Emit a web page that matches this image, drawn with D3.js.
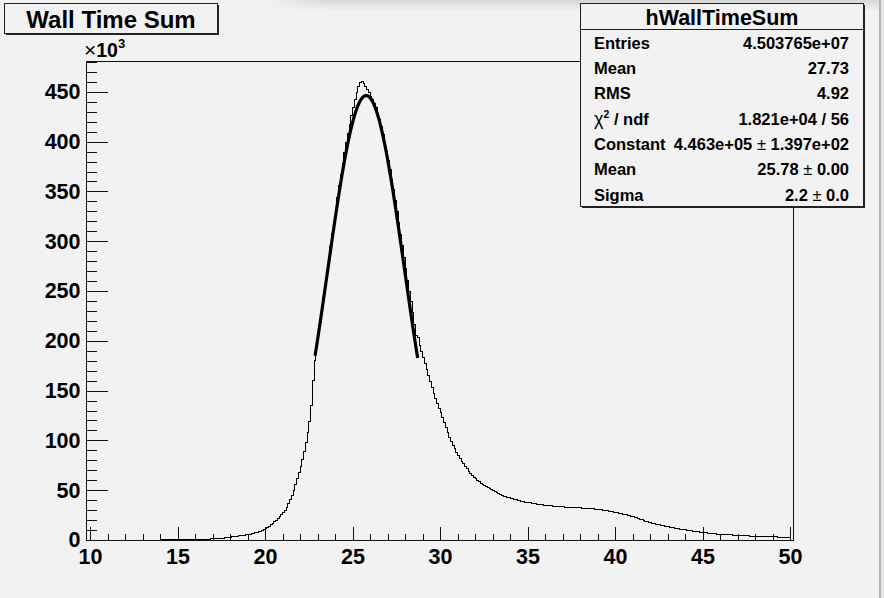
<!DOCTYPE html>
<html>
<head>
<meta charset="utf-8">
<script src="https://cdn.jsdelivr.net/npm/d3@7"></script>
<style>
  html, body { margin: 0; padding: 0; background: #f2f2f2; }
  svg { display: block; }
  text { font-family: "Liberation Sans", Arial, Helvetica, sans-serif; font-weight: bold; fill: #000; }
</style>
</head>
<body>
<svg id="chart" width="884" height="598"></svg>
<script>
// ---- histogram data: entries per 0.1-wide bin, in units of 10^3, bins start at 10.0 ----
const binStart = 10.0;
const binWidth = 0.1;
const wallTimeCounts = [
  /* 10 */ 0, 0, 0, 0, 0, 0, 0, 0, 0, 0,
  /* 11 */ 0, 0, 0, 0, 0, 0, 0, 0, 0, 0,
  /* 12 */ 0, 0, 0, 0, 0, 0, 0, 0, 0, 0,
  /* 13 */ 0, 0, 0, 0, 0, 0, 0, 0, 0, 0,
  /* 14 */ 0.1, 0.1, 0.1, 0.2, 0.2, 0.2, 0.2, 0.3, 0.3, 0.3,
  /* 15 */ 0.3, 0.3, 0.4, 0.4, 0.4, 0.4, 0.5, 0.5, 0.5, 0.5,
  /* 16 */ 0.6, 0.6, 0.6, 0.7, 0.7, 0.8, 0.9, 1.0, 1.0, 1.1,
  /* 17 */ 1.2, 1.3, 1.4, 1.6, 1.7, 1.9, 2.0, 2.2, 2.4, 2.6,
  /* 18 */ 2.9, 3.1, 3.3, 3.5, 3.8, 4.1, 4.4, 4.7, 5.0, 5.3,
  /* 19 */ 5.6, 6.0, 6.3, 6.7, 7.2, 7.7, 8.3, 9.0, 9.8, 10.7,
  /* 20 */ 11.7, 12.8, 14.0, 15.3, 16.7, 18.2, 19.8, 21.5, 23.3, 25.3,
  /* 21 */ 27.5, 30.0, 33.0, 36.5, 40.5, 45.0, 50.0, 56.0, 62.0, 68.0,
  /* 22 */ 74, 81, 89, 98, 108, 119, 135, 160, 180, 193,
  /* 23 */ 206, 218, 231, 244, 257, 270, 283, 295, 308, 320,
  /* 24 */ 332, 344, 356, 367, 378, 389, 399, 408, 417, 426,
  /* 25 */ 434, 442, 449, 455, 459, 460, 458, 455, 452, 449,
  /* 26 */ 445, 442, 438, 434, 428, 422, 415, 407, 399, 390,
  /* 27 */ 381, 372, 362, 352, 341, 330, 319, 307, 296, 284,
  /* 28 */ 273, 261, 250, 239, 228, 216, 205, 203, 195, 189,
  /* 29 */ 183, 177, 171, 165, 159, 153, 147, 142, 137, 132,
  /* 30 */ 128, 123, 118, 113, 108, 103, 99, 95, 91.5, 88,
  /* 31 */ 85, 82, 79, 76.5, 74, 71.5, 69, 67, 65, 63,
  /* 32 */ 61.5, 60, 58.5, 57, 55.5, 54.5, 53.5, 52.5, 51.5, 50.5,
  /* 33 */ 49.5, 48.5, 47.5, 46.5, 45.5, 45, 44, 43.5, 43, 42.5,
  /* 34 */ 42, 41.5, 41, 40.5, 40, 39.5, 39, 38.5, 38, 37.8,
  /* 35 */ 37.5, 37.2, 36.8, 36.5, 36.2, 36, 35.7, 35.4, 35.2, 35,
  /* 36 */ 34.8, 34.6, 34.4, 34.2, 34, 33.9, 33.7, 33.5, 33.4, 33.3,
  /* 37 */ 33.2, 33.1, 33, 32.9, 32.8, 32.7, 32.6, 32.5, 32.4, 32.3,
  /* 38 */ 32.2, 32.1, 32, 31.9, 31.8, 31.6, 31.4, 31.2, 31.0, 30.8,
  /* 39 */ 30.6, 30.4, 30.2, 29.9, 29.6, 29.3, 29.0, 28.7, 28.4, 28.0,
  /* 40 */ 27.6, 27.2, 26.8, 26.4, 26.0, 25.6, 25.2, 24.8, 24.4, 24.0,
  /* 41 */ 23.5, 22.9, 22.3, 21.6, 20.9, 20.2, 19.6, 19.0, 18.4, 17.8,
  /* 42 */ 17.3, 16.8, 16.3, 15.9, 15.5, 15.1, 14.7, 14.3, 13.9, 13.5,
  /* 43 */ 13.1, 12.8, 12.5, 12.2, 11.9, 11.6, 11.3, 11.0, 10.7, 10.4,
  /* 44 */ 10.1, 9.8, 9.5, 9.3, 9.0, 8.7, 8.5, 8.2, 8.0, 7.7,
  /* 45 */ 7.5, 7.3, 7.1, 6.9, 6.7, 6.5, 6.3, 6.1, 6.0, 5.8,
  /* 46 */ 5.7, 5.6, 5.5, 5.4, 5.3, 5.2, 5.1, 5.0, 4.9, 4.8,
  /* 47 */ 4.7, 4.6, 4.5, 4.4, 4.3, 4.2, 4.1, 4.0, 3.9, 3.8,
  /* 48 */ 3.8, 3.7, 3.6, 3.6, 3.5, 3.4, 3.4, 3.3, 3.3, 3.2,
  /* 49 */ 3.2, 3.1, 3.1, 3.0, 3.0, 2.9, 2.9, 2.8, 2.8, 2.7
];

// ---- gaussian fit parameters (as reported in the stats box) ----
const fitConstant = 446.3;   // 4.463e+05 in units of 10^3
const fitMean = 25.78;
const fitSigma = 2.2;
const fitRange = [22.86, 28.72];

// ---- axes ----
const xDomain = [9.77, 50.17];
const yDomain = [0, 481];
const xTickValues = [10, 15, 20, 25, 30, 35, 40, 45, 50];
const yTickValues = [0, 50, 100, 150, 200, 250, 300, 350, 400, 450];

// ---- text ----
const histTitle = "Wall Time Sum";
const statsName = "hWallTimeSum";
const statLabels = ["Entries", "Mean", "RMS", "χ2 / ndf", "Constant", "Mean", "Sigma"];
const statValues = ["4.503765e+07", "27.73", "4.92", "1.821e+04 / 56",
                    "4.463e+05 ± 1.397e+02", "25.78 ± 0.00", "2.2 ± 0.0"];

// ---- layout ----
const W = 884, H = 598;
const frame = { left: 86, right: 793, top: 61, bottom: 540 };
const ink = "#111";
const labelFont = 21.5;

const svg = d3.select("#chart");

// soft window shadow along the top and the right edge of the canvas
const defs = svg.append("defs");
const vg = defs.append("linearGradient").attr("id", "topShade").attr("x1", 0).attr("y1", 0).attr("x2", 0).attr("y2", 1);
vg.append("stop").attr("offset", 0).attr("stop-color", "#d6d6d6");
vg.append("stop").attr("offset", 1).attr("stop-color", "#f2f2f2");
const hg = defs.append("linearGradient").attr("id", "topFade").attr("x1", 0).attr("y1", 0).attr("x2", 1).attr("y2", 0);
hg.append("stop").attr("offset", 0).attr("stop-color", "#fff").attr("stop-opacity", 0);
hg.append("stop").attr("offset", 1).attr("stop-color", "#fff").attr("stop-opacity", 1);
const mask = defs.append("mask").attr("id", "topMask");
mask.append("rect").attr("x", 0).attr("y", 0).attr("width", 60).attr("height", 12)
  .attr("transform", "translate(270,0)").attr("fill", "url(#topFade)");
mask.append("rect").attr("x", 330).attr("y", 0).attr("width", W - 330).attr("height", 12).attr("fill", "#fff");

svg.append("rect").attr("width", W).attr("height", H).attr("fill", "#f2f2f2");
svg.append("rect").attr("x", 0).attr("y", 0).attr("width", W).attr("height", 11)
  .attr("fill", "url(#topShade)").attr("mask", "url(#topMask)");
svg.append("rect").attr("x", 879).attr("y", 0).attr("width", 2).attr("height", H).attr("fill", "#b2b2b2");
svg.append("rect").attr("x", 881).attr("y", 0).attr("width", 3).attr("height", H).attr("fill", "#e9e9e9");

// scales
const x = d3.scaleLinear().domain(xDomain).range([frame.left, frame.right]);
const y = d3.scaleLinear().domain(yDomain).range([frame.bottom, frame.top]);

// histogram outline (step line across every bin)
const stepPoints = [];
wallTimeCounts.forEach((v, i) => {
  const lo = binStart + i * binWidth;
  stepPoints.push([lo, v], [lo + binWidth, v]);
});
svg.append("path")
  .attr("d", d3.line().x(d => x(d[0])).y(d => y(d[1]))(stepPoints))
  .attr("fill", "none").attr("stroke", "#000").attr("stroke-width", 1)
  .attr("shape-rendering", "crispEdges");

// fitted gaussian over the fit range
const nFit = 120;
const fitPoints = d3.range(nFit + 1).map(i => {
  const xv = fitRange[0] + (fitRange[1] - fitRange[0]) * i / nFit;
  return [xv, fitConstant * Math.exp(-0.5 * Math.pow((xv - fitMean) / fitSigma, 2))];
});
svg.append("path")
  .attr("d", d3.line().x(d => x(d[0])).y(d => y(d[1]))(fitPoints))
  .attr("fill", "none").attr("stroke", "#000").attr("stroke-width", 3.2)
  .attr("stroke-linejoin", "round");

// frame
svg.append("rect")
  .attr("x", frame.left + 0.5).attr("y", frame.top + 0.5)
  .attr("width", frame.right - frame.left).attr("height", frame.bottom - frame.top)
  .attr("fill", "none").attr("stroke", ink).attr("stroke-width", 1);

// y axis: major + minor ticks pointing into the frame
const yMinor = d3.range(0, yDomain[1] + 0.001, 10).filter(v => v % 50 !== 0);
const yAxisMinor = d3.axisLeft(y).tickValues(yMinor).tickSize(-10).tickFormat("");
const yAxisMajor = d3.axisLeft(y).tickValues(yTickValues).tickSize(-21).tickPadding(6).tickFormat(d3.format("d"));
[yAxisMinor, yAxisMajor].forEach(ax => {
  const g = svg.append("g").attr("transform", `translate(${frame.left + 0.5},0)`).call(ax);
  g.select(".domain").remove();
  g.selectAll("line").attr("stroke", ink).attr("shape-rendering", "crispEdges");
  g.selectAll("text").attr("font-size", labelFont).attr("fill", "#000")
    .attr("font-family", "'Liberation Sans', Arial, sans-serif").attr("font-weight", "bold");
});

// x axis
const xMinor = d3.range(11, 50, 1).filter(v => v % 5 !== 0);
const xAxisMinor = d3.axisBottom(x).tickValues(xMinor).tickSize(-7).tickFormat("");
const xAxisMajor = d3.axisBottom(x).tickValues(xTickValues).tickSize(-14).tickPadding(8).tickFormat(d3.format("d"));
[xAxisMinor, xAxisMajor].forEach(ax => {
  const g = svg.append("g").attr("transform", `translate(0,${frame.bottom + 0.5})`).call(ax);
  g.select(".domain").remove();
  g.selectAll("line").attr("stroke", ink).attr("shape-rendering", "crispEdges");
  g.selectAll("text").attr("font-size", labelFont).attr("fill", "#000")
    .attr("font-family", "'Liberation Sans', Arial, sans-serif").attr("font-weight", "bold");
});

// axis exponent
const expo = svg.append("text").attr("x", 84).attr("y", 57).attr("font-size", 19.5);
expo.append("tspan").attr("font-weight", "normal").attr("font-size", 21).text("×");
expo.append("tspan").text("10");
expo.append("tspan").attr("font-size", 13).attr("dy", -9).text("3");

// boxes with a drop shadow on the right/bottom
function shadowBox(x0, y0, w, h) {
  svg.append("rect").attr("x", x0 + 2).attr("y", y0 + 2).attr("width", w).attr("height", h).attr("fill", "#222");
  svg.append("rect").attr("x", x0 + 0.5).attr("y", y0 + 0.5).attr("width", w).attr("height", h)
    .attr("fill", "#f2f2f2").attr("stroke", "#222").attr("stroke-width", 1);
}

// title box
shadowBox(4, 3, 213, 30);
svg.append("text").attr("x", 111).attr("y", 27.5).attr("text-anchor", "middle")
  .attr("font-size", 24).text(histTitle);

// stats box
const sb = { x: 580, y: 3, w: 283, h: 203 };
shadowBox(sb.x, sb.y, sb.w, sb.h);
svg.append("line").attr("x1", sb.x).attr("x2", sb.x + sb.w).attr("y1", 29.5).attr("y2", 29.5)
  .attr("stroke", "#222").attr("stroke-width", 1);
svg.append("text").attr("x", 722).attr("y", 25).attr("text-anchor", "middle")
  .attr("font-size", 21.5).text(statsName);

const rowY = d3.scaleLinear().domain([0, statLabels.length - 1]).range([48.5, 200.5]);
statLabels.forEach((lab, i) => {
  const t = svg.append("text").attr("x", 594).attr("y", rowY(i)).attr("font-size", 16.5);
  if (lab.startsWith("χ2")) {
    t.append("tspan").attr("font-weight", "normal").attr("font-size", 18).text("χ");
    t.append("tspan").attr("font-size", 10.5).attr("dy", -7).text("2");
    t.append("tspan").attr("dy", 7).text(lab.slice(2));
  } else {
    t.text(lab);
  }
});
statValues.forEach((val, i) => {
  const t = svg.append("text").attr("x", 849).attr("y", rowY(i)).attr("font-size", 16.5)
    .attr("text-anchor", "end");
  const parts = val.split("±");
  parts.forEach((p, k) => {
    if (k > 0) t.append("tspan").attr("font-weight", "normal").text(" ± ");
    t.append("tspan").text(p.trim());
  });
});
</script>
</body>
</html>
